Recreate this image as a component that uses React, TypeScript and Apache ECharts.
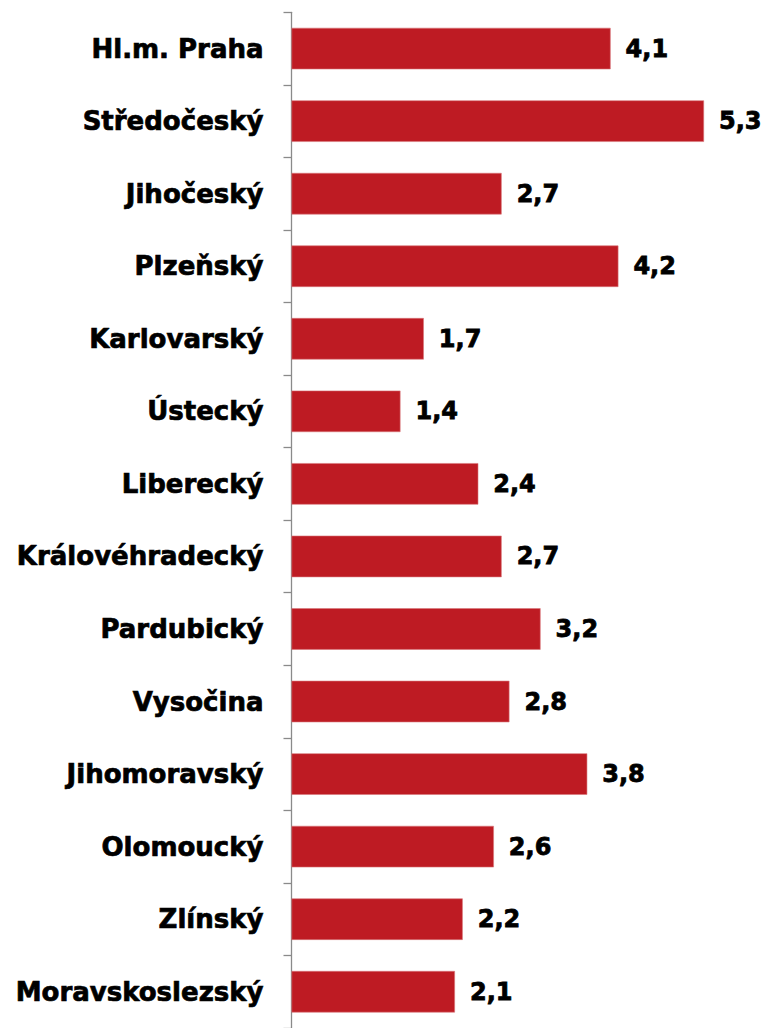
import React, { useEffect, useRef } from "react";
import * as echarts from "echarts";

const categories = [
  "Hl.m. Praha",
  "Středočeský",
  "Jihočeský",
  "Plzeňský",
  "Karlovarský",
  "Ústecký",
  "Liberecký",
  "Královéhradecký",
  "Pardubický",
  "Vysočina",
  "Jihomoravský",
  "Olomoucký",
  "Zlínský",
  "Moravskoslezský",
];
const values = [4.1, 5.3, 2.7, 4.2, 1.7, 1.4, 2.4, 2.7, 3.2, 2.8, 3.8, 2.6, 2.2, 2.1];

export default function App() {
  const ref = useRef<HTMLDivElement>(null);
  useEffect(() => {
    if (!ref.current) return;
    const chart = echarts.init(ref.current, null, { renderer: "svg" });
    chart.setOption({
      animation: false,
      backgroundColor: "#ffffff",
      grid: { left: 291.5, top: 12.3, width: 467, height: 1021.5, containLabel: false },
      xAxis: {
        type: "value",
        min: 0,
        max: 6,
        show: false,
      },
      yAxis: {
        type: "category",
        data: categories,
        inverse: true,
        axisLine: { show: true, lineStyle: { color: "#8a8a8a", width: 1.3 } },
        axisTick: { show: true, length: 8, lineStyle: { color: "#8a8a8a", width: 1.3 } },
        axisLabel: {
          margin: 28,
          color: "#000000",
          fontFamily: "DejaVu Sans",
          fontWeight: "bold",
          fontSize: 26,
          textBorderColor: "#000000",
          textBorderWidth: 0.7,
        },
        splitLine: { show: false },
      },
      series: [
        {
          type: "bar",
          data: values,
          barWidth: 41.5,
          itemStyle: { color: "#BE1B23", borderColor: "#D9777B", borderWidth: 0.6 },
          label: {
            show: true,
            position: "right",
            distance: 15,
            color: "#000000",
            fontFamily: "DejaVu Sans",
            fontWeight: "bold",
            fontSize: 24,
            textBorderColor: "#000000",
            textBorderWidth: 0.8,
            formatter: (p: any) => String(p.value).replace(".", ","),
          },
        },
      ],
    });
    return () => chart.dispose();
  }, []);
  return (
    <div
      ref={ref}
      style={{ position: "absolute", left: 0, top: 0, width: 769, height: 1028 }}
    />
  );
}
